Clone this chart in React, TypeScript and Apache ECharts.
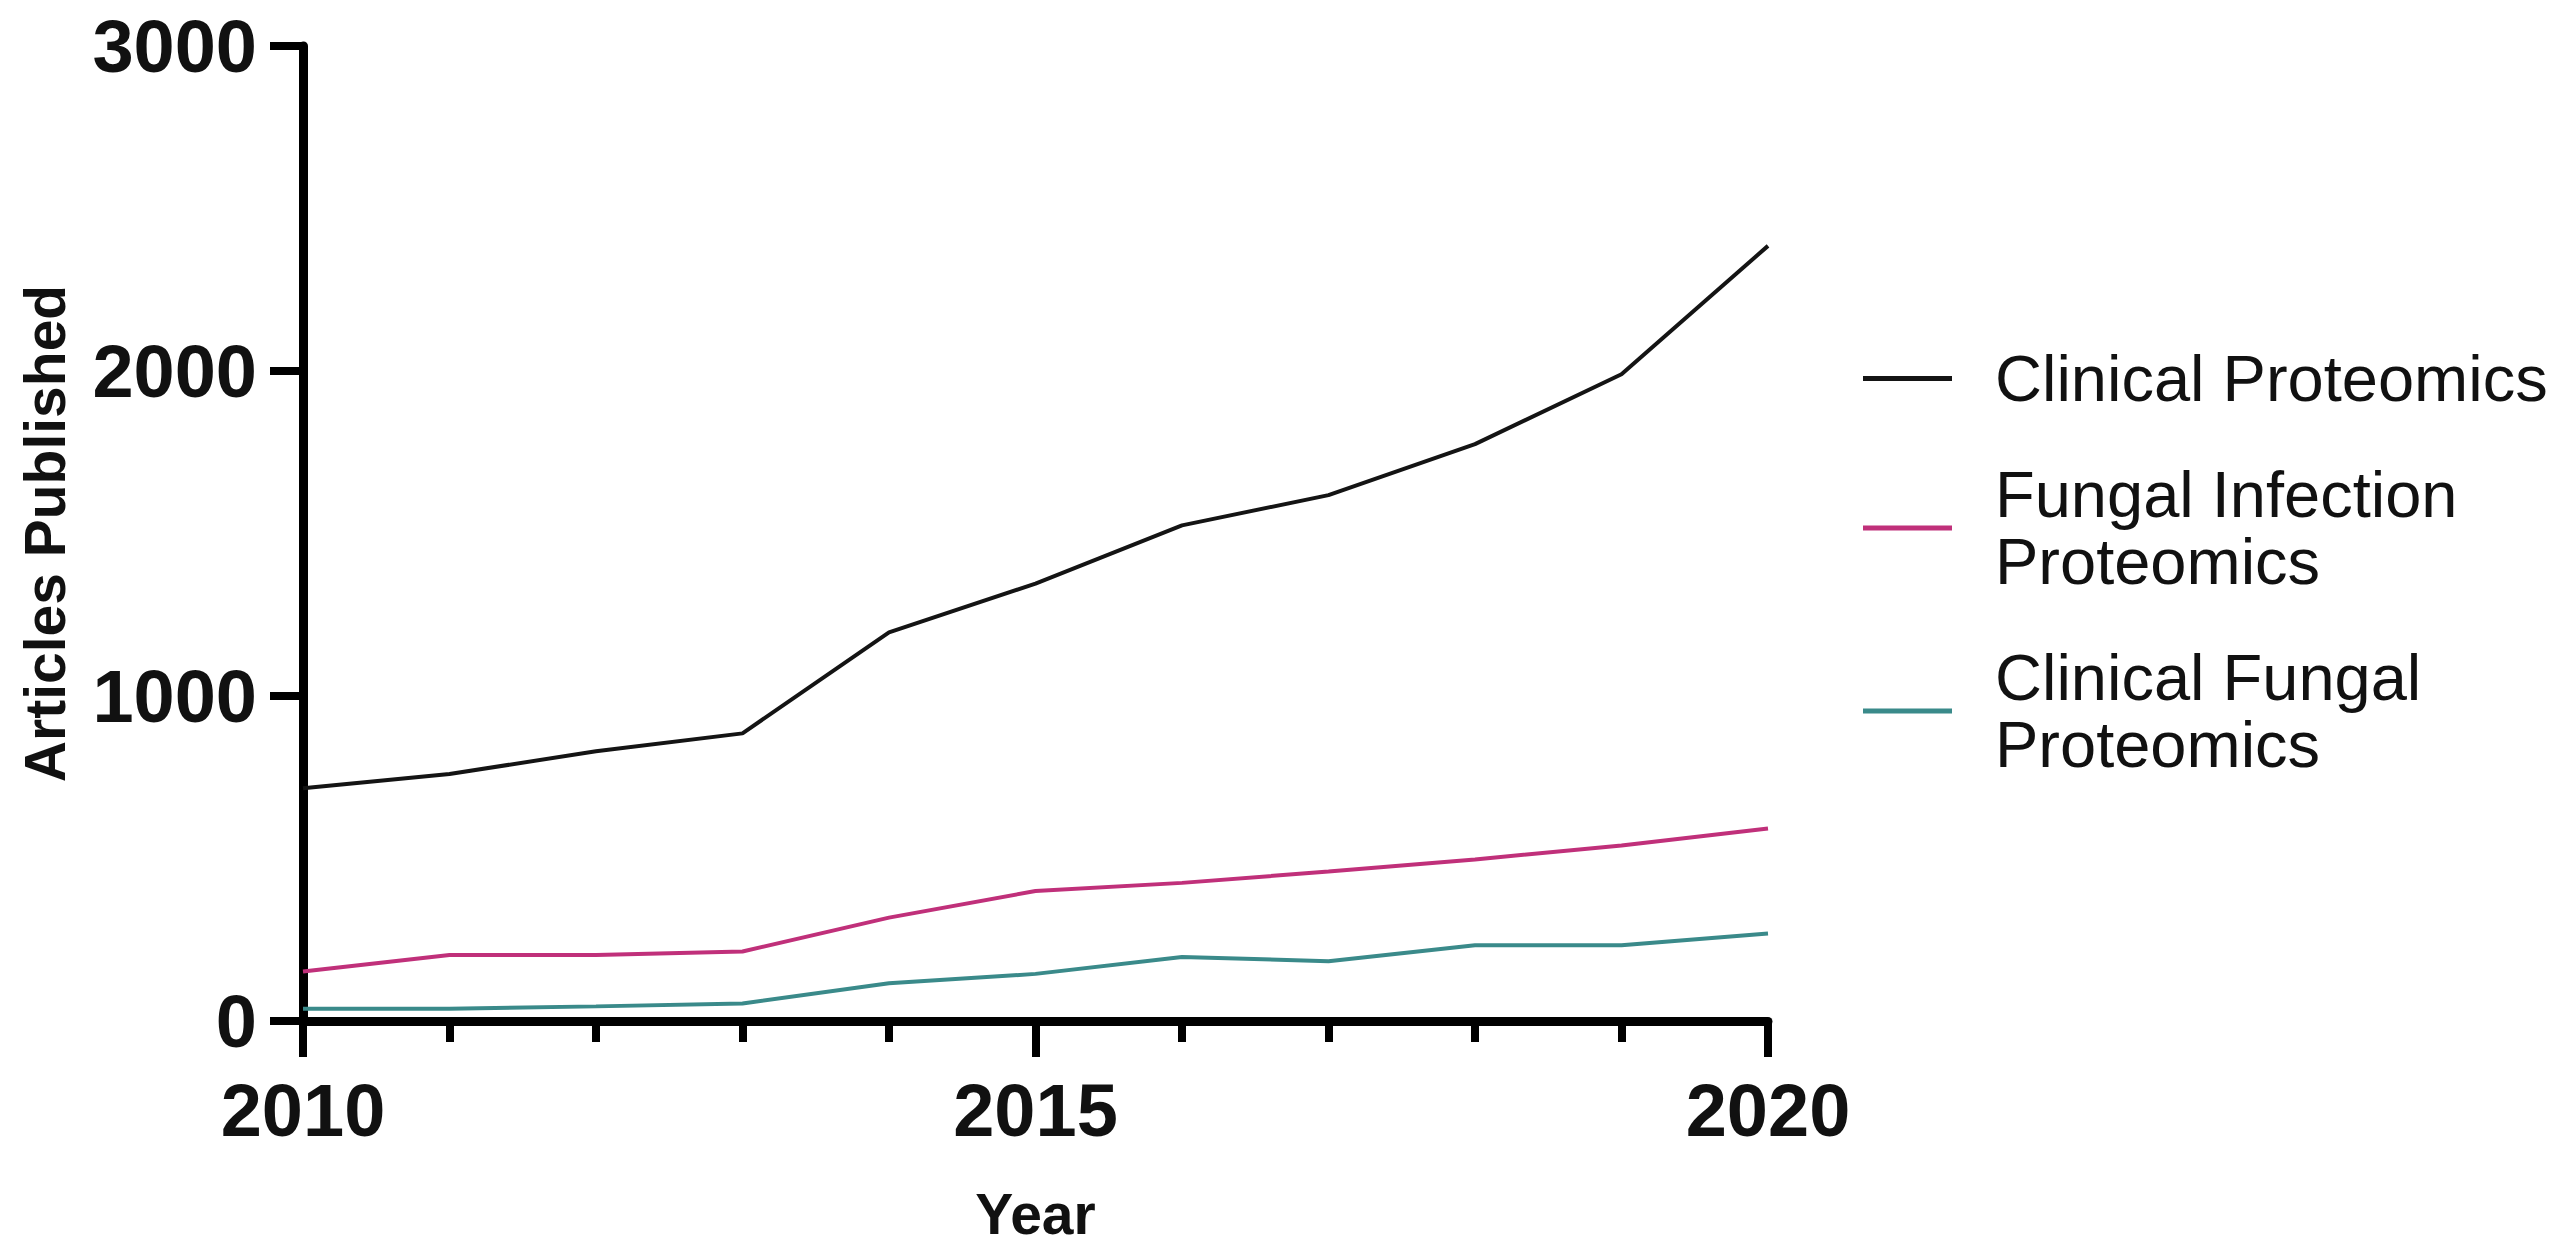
import React, { useEffect, useRef } from "react";
import * as echarts from "echarts";

const years = [2010, 2011, 2012, 2013, 2014, 2015, 2016, 2017, 2018, 2019, 2020];
const clinicalProteomics = [716, 760, 830, 885, 1196, 1346, 1525, 1618, 1775, 1990, 2385];
const fungalInfectionProteomics = [152, 203, 203, 214, 318, 400, 425, 460, 497, 540, 592];
const clinicalFungalProteomics = [38, 38, 45, 54, 116, 145, 197, 184, 233, 233, 269];
const seriesNames = ["Clinical Proteomics", "Fungal Infection Proteomics", "Clinical Fungal Proteomics"];
const legendLabels: Record<string, string> = {
  "Clinical Proteomics": "Clinical Proteomics",
  "Fungal Infection Proteomics": "Fungal Infection\nProteomics",
  "Clinical Fungal Proteomics": "Clinical Fungal\nProteomics",
};
const colors = ["#141414", "#c0307a", "#3a8a8a"];
const yTicks = { min: 0, max: 3000, interval: 1000 };

const FONT = "'Liberation Sans', Arial, sans-serif";

export default function App() {
  const ref = useRef<HTMLDivElement>(null);
  useEffect(() => {
    if (!ref.current) return;
    const chart = echarts.init(ref.current, undefined, { renderer: "svg" });
    const allValues = [clinicalProteomics, fungalInfectionProteomics, clinicalFungalProteomics];
    chart.setOption({
      animation: false,
      backgroundColor: "#ffffff",
      grid: { left: 303, right: 803, top: 46, bottom: 236, containLabel: false },
      legend: {
        orient: "vertical",
        left: 1858,
        top: 340,
        icon: "rect",
        itemWidth: 89,
        itemHeight: 5,
        itemGap: 49,
        data: seriesNames,
        formatter: (n: string) => legendLabels[n] || n,
        textStyle: {
          fontFamily: FONT,
          fontSize: 65,
          lineHeight: 67,
          color: "#111",
          padding: [0, 0, 0, 38],
        },
      },
      xAxis: {
        type: "value",
        min: 2010,
        max: 2020,
        interval: 5,
        name: "Year",
        nameLocation: "middle",
        nameGap: 164,
        nameTextStyle: { fontFamily: FONT, fontWeight: "bold", fontSize: 57, color: "#111" },
        axisLine: { show: true, lineStyle: { color: "#000", width: 9 } },
        axisTick: { show: true, length: 36, lineStyle: { color: "#000", width: 8 } },
        minorTick: { show: true, splitNumber: 5, length: 21, lineStyle: { color: "#000", width: 8 } },
        splitLine: { show: false },
        axisLabel: {
          fontFamily: FONT,
          fontWeight: "bold",
          fontSize: 74,
          color: "#111",
          margin: 52,
          formatter: (v: number) => String(v),
        },
      },
      yAxis: {
        type: "value",
        min: yTicks.min,
        max: yTicks.max,
        interval: yTicks.interval,
        name: "Articles Published",
        nameLocation: "middle",
        nameGap: 230,
        nameTextStyle: { fontFamily: FONT, fontWeight: "bold", fontSize: 57, color: "#111" },
        axisLine: { show: true, lineStyle: { color: "#000", width: 9 } },
        axisTick: { show: true, length: 33, lineStyle: { color: "#000", width: 8 } },
        splitLine: { show: false },
        axisLabel: {
          fontFamily: FONT,
          fontWeight: "bold",
          fontSize: 74,
          color: "#111",
          margin: 46,
          formatter: (v: number) => String(v),
        },
      },
      series: seriesNames.map((name, i) => ({
        name,
        type: "line",
        data: years.map((y, j) => [y, allValues[i][j]]),
        showSymbol: false,
        symbol: "none",
        color: colors[i],
        lineStyle: { color: colors[i], width: 4 },
        z: 3 - i,
      })),
    });
    return () => chart.dispose();
  }, []);
  return (
    <div
      ref={ref}
      style={{ position: "fixed", left: 0, top: 0, width: 2571, height: 1257, background: "#fff" }}
    />
  );
}
